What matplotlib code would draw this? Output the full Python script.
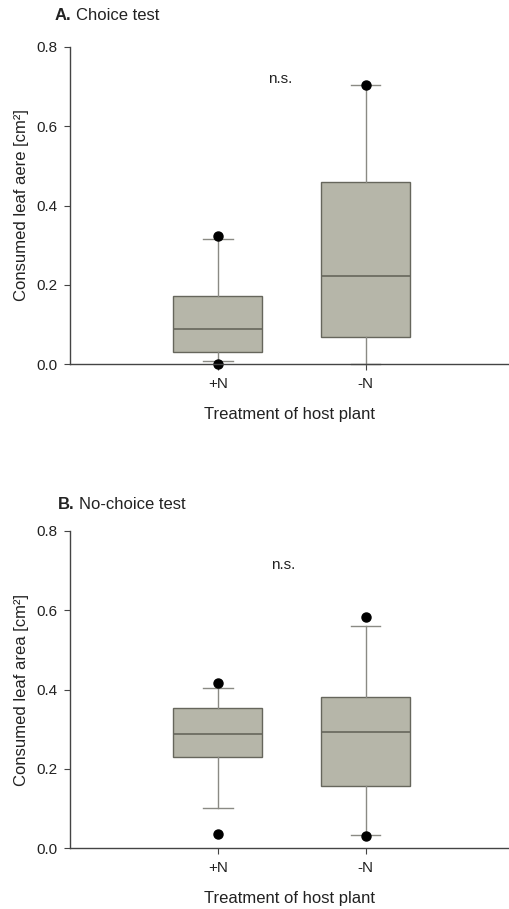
import matplotlib
matplotlib.use("Agg")
import matplotlib.pyplot as plt

plt.rcParams['font.family'] = ['Liberation Sans', 'DejaVu Sans']

categories = ["+N", "-N"]

# Panel A: Choice test
a_whislo = [0.008, 0.0]
a_q1 = [0.030, 0.069]
a_med = [0.089, 0.223]
a_q3 = [0.171, 0.459]
a_whishi = [0.315, 0.704]
a_fliers = [[0.322, 0.0], [0.704]]

# Panel B: No-choice test
b_whislo = [0.100, 0.032]
b_q1 = [0.229, 0.157]
b_med = [0.287, 0.292]
b_q3 = [0.354, 0.380]
b_whishi = [0.403, 0.561]
b_fliers = [[0.417, 0.035], [0.584, 0.031]]

yticks = [0.0, 0.2, 0.4, 0.6, 0.8]

W, H = 509, 909
fig = plt.figure(figsize=(W / 100, H / 100), dpi=100)

face = '#b6b6a9'
edge = '#66665c'
wcol = '#8a8a84'


def draw(ax, whislo, q1, med, q3, whishi, fliers, ylabel, ns_xy):
    stats = []
    for i in range(len(categories)):
        stats.append(dict(whislo=whislo[i], q1=q1[i], med=med[i], q3=q3[i],
                          whishi=whishi[i], fliers=fliers[i], label=categories[i]))
    ax.bxp(stats, positions=[1, 2], widths=0.6, patch_artist=True,
           boxprops=dict(facecolor=face, edgecolor=edge, linewidth=1.0),
           medianprops=dict(color=edge, linewidth=1.2),
           whiskerprops=dict(color=wcol, linewidth=1.0),
           capprops=dict(color=wcol, linewidth=1.0),
           capwidths=0.2,
           flierprops=dict(marker='o', markerfacecolor='black', markeredgecolor='black',
                           markersize=6.5, linestyle='none'),
           zorder=2)
    ax.set_xlim(0, 2.97)
    ax.set_ylim(0, 0.8)
    ax.set_yticks(yticks)
    ax.set_yticklabels([f"{v:.1f}" for v in yticks])
    ax.spines['top'].set_visible(False)
    ax.spines['right'].set_visible(False)
    for s in ('left', 'bottom'):
        ax.spines[s].set_color('#444444')
        ax.spines[s].set_linewidth(1.0)
    ax.tick_params(axis='both', direction='out', length=4, width=0.8, color='#444444',
                   labelsize=11, labelcolor='#222222', pad=5)
    ax.set_ylabel(ylabel, fontsize=12, color='#222222', labelpad=5)
    ax.set_xlabel("Treatment of host plant", fontsize=12, color='#222222', labelpad=12)
    ax.text(ns_xy[0], ns_xy[1], "n.s.", fontsize=11, color='#222222', ha='center', va='center')
    for art in ax.get_children():
        try:
            art.set_clip_on(False)
        except Exception:
            pass
    return ax


ax1 = fig.add_axes([70 / W, 1 - 364 / H, 1 - 70 / W, (364 - 47) / H])
draw(ax1, a_whislo, a_q1, a_med, a_q3, a_whishi, a_fliers,
     "Consumed leaf aere [cm²]", (1.42, 0.72))

ax2 = fig.add_axes([70 / W, 1 - 848 / H, 1 - 70 / W, (848 - 531) / H])
draw(ax2, b_whislo, b_q1, b_med, b_q3, b_whishi, b_fliers,
     "Consumed leaf area [cm²]", (1.44, 0.715))

fig.text(55 / W, 1 - 16 / H, "A.", fontsize=12, fontweight='bold', va='center', ha='left', color='#222222')
fig.text(76 / W, 1 - 16 / H, "Choice test", fontsize=12, va='center', ha='left', color='#222222')
fig.text(58 / W, 1 - 504 / H, "B.", fontsize=12, fontweight='bold', va='center', ha='left', color='#222222')
fig.text(79 / W, 1 - 504 / H, "No-choice test", fontsize=12, va='center', ha='left', color='#222222')

fig.savefig("out.png", dpi=100)
